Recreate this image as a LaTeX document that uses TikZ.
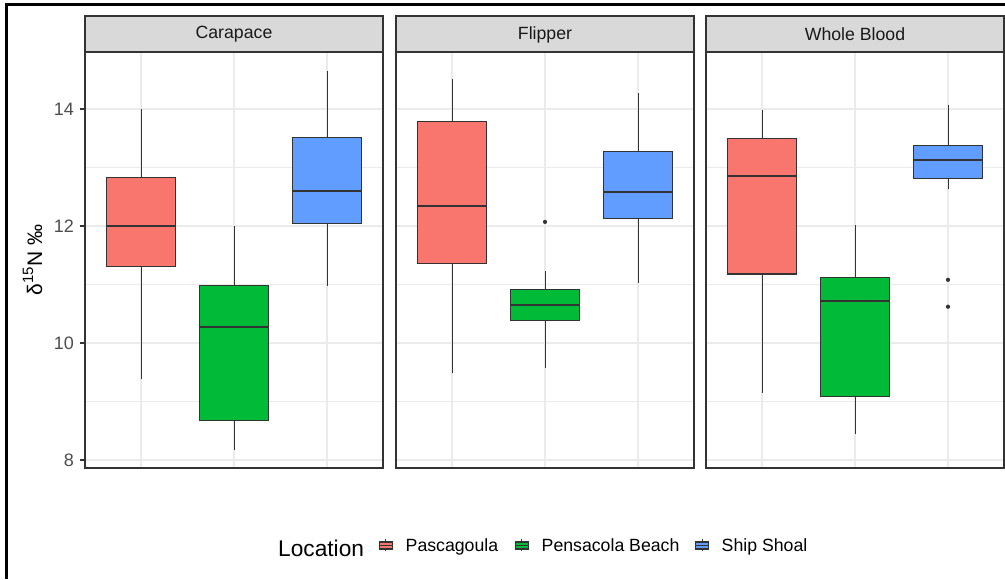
\documentclass[tikz,border=0pt]{standalone}
\usepackage{fontspec}
\setmainfont{Liberation Sans}
\usepackage{tikz}
\usetikzlibrary{positioning}
\tikzset{>=stealth}

\definecolor{pasc}{HTML}{F8766D}
\definecolor{pens}{HTML}{00BA38}
\definecolor{ship}{HTML}{619CFF}
\definecolor{gridc}{HTML}{EBEBEB}
\definecolor{edgec}{HTML}{333333}
\definecolor{stripc}{HTML}{D9D9D9}
\definecolor{tickc}{HTML}{4D4D4D}

\newcommand{\sz}[1]{\fontsize{#1}{#1}\selectfont}
% box: centre, low whisker, q1, median, q3, high whisker, fill
\newcommand{\bxw}[7]{
  \draw[whisk] (#1,#2) -- (#1,#3);
  \draw[whisk] (#1,#5) -- (#1,#6);
  \filldraw[boxe, fill=#7] (#1-34.9,#3) rectangle (#1+34.9,#5);
  \draw[med] (#1-34.9,#4) -- (#1+34.9,#4);
}
% legend key: centre, fill
\newcommand{\lkey}[2]{
  \draw[whisk] (#1,538.5) -- (#1,551);
  \filldraw[boxe, fill=#2] (#1-6.5,542) rectangle (#1+6.5,549);
  \draw[edgec, line width=1pt] (#1-6.5,545.5) -- (#1+6.5,545.5);
}

\begin{document}
\begin{tikzpicture}[x=1pt, y=-1pt,
    major/.style={gridc, line width=1.6pt},
    minor/.style={gridc, line width=0.8pt},
    whisk/.style={edgec, line width=0.9pt},
    boxe/.style={draw=edgec, line width=1.05pt},
    med/.style={edgec, line width=2pt},
    panel/.style={draw=edgec, line width=1.3pt},
    strip/.style={draw=edgec, fill=stripc, line width=1.3pt},
    striptxt/.style={text=black!90, inner sep=0pt, font=\sz{17.7}},
    ticktxt/.style={text=tickc, inner sep=0pt, anchor=east, font=\sz{18}},
    legtxt/.style={inner sep=0pt, anchor=base west, font=\sz{17.7}},
    outl/.style={fill=edgec}]

    \useasboundingbox (0,0) rectangle (1005,579);
    \draw[line width=2.6pt] (1005,4.5) -- (6.5,4.5) -- (6.5,579);

    % data scope: y in delta units
    \begin{scope}[y=58.5pt, yshift=-928pt]
        % grid
        \foreach \l in {85,396,706}{
            \foreach \v in {9,11,13} \draw[minor] (\l,\v) -- (\l+298,\v);
            \foreach \v in {8,10,12,14} \draw[major] (\l,\v) -- (\l+298,\v);
            \foreach \c in {56,149,242} \draw[major] (\l+\c,7.863) -- (\l+\c,14.974);
        }

        % Carapace
        \bxw{141}{9.38}{11.31}{12.0}{12.83}{14.0}{pasc}
        \bxw{234}{8.17}{8.67}{10.28}{10.99}{12.0}{pens}
        \bxw{327}{10.98}{12.05}{12.6}{13.52}{14.65}{ship}

        % Flipper
        \bxw{452}{9.49}{11.36}{12.35}{13.79}{14.51}{pasc}
        \bxw{545}{9.58}{10.38}{10.65}{10.92}{11.23}{pens}
        \bxw{638}{11.03}{12.13}{12.58}{13.28}{14.27}{ship}
        \fill[outl] (545,12.07) circle (2.1pt);

        % Whole Blood
        \bxw{762}{9.15}{11.18}{12.85}{13.49}{13.98}{pasc}
        \bxw{855}{8.44}{9.08}{10.71}{11.12}{12.02}{pens}
        \bxw{948}{12.64}{12.82}{13.13}{13.37}{14.06}{ship}
        \fill[outl] (948,11.08) circle (2.1pt);
        \fill[outl] (948,10.62) circle (2.1pt);

        % y axis
        \node[ticktxt] (t8) at (74,8) {8};
        \node[ticktxt] (t10) at (74,10) {10};
        \node[ticktxt] (t12) at (74,12) {12};
        \node[ticktxt] (t14) at (74,14) {14};
        \foreach \v in {8,10,12,14} \draw[edgec, line width=1.2pt] (79.5,\v) -- (85,\v);
    \end{scope}

    % panels and strips
    \draw[panel] (85,52) rectangle (383,468);
    \draw[panel] (396,52) rectangle (694,468);
    \draw[panel] (706,52) rectangle (1004,468);
    \draw[strip] (85,16) rectangle (383,52);
    \draw[strip] (396,16) rectangle (694,52);
    \draw[strip] (706,16) rectangle (1004,52);
    \node[striptxt] (car) at (234,34.5) {Carapace};
    \node[striptxt] (fli) at (545,34.5) {Flipper};
    \node[striptxt] (whb) at (855,34.5) {Whole Blood};

    \node[rotate=90, anchor=base, inner sep=0pt, font=\sz{21}] (ytl) at (42,260)
        {δ\raisebox{0.42em}{\sz{15}15}N ‰};

    % legend
    \node[inner sep=0pt, anchor=base west, font=\sz{22.7}] (loc) at (278,556.7) {Location};
    \lkey{385.8}{pasc}
    \lkey{521.7}{pens}
    \lkey{702}{ship}
    \node[legtxt] (lp) at (405.5,551.7) {Pascagoula};
    \node[legtxt] (lpb) at (541.5,551.7) {Pensacola Beach};
    \node[legtxt] (lss) at (721.5,551.7) {Ship Shoal};

\end{tikzpicture}
\end{document}
